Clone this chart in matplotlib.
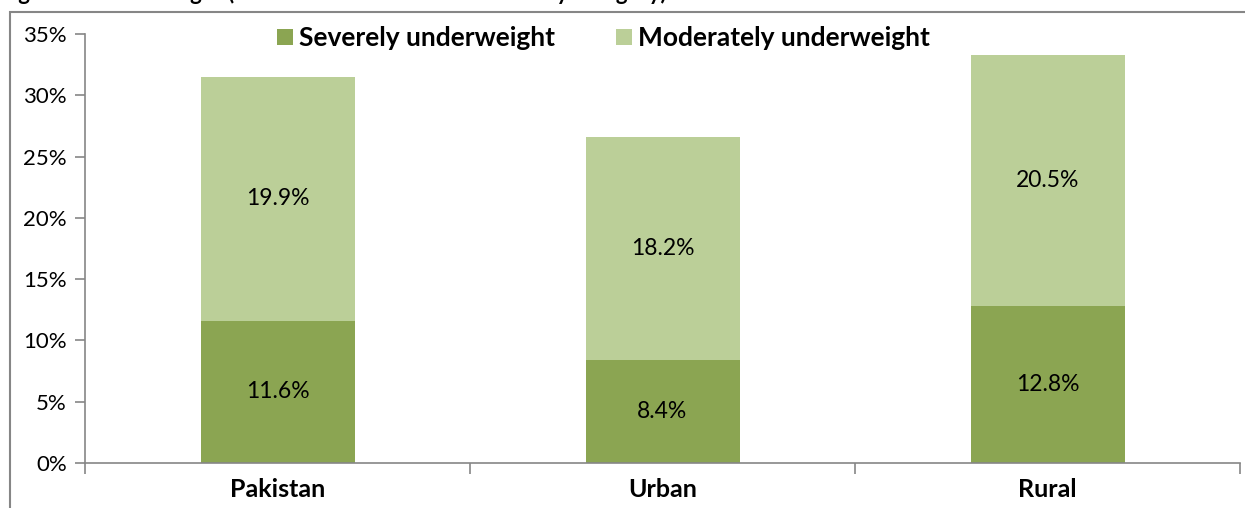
import matplotlib
matplotlib.use("Agg")
from matplotlib import pyplot as plt
from matplotlib.patches import Rectangle
from matplotlib.ticker import FuncFormatter

categories = ["Pakistan", "Urban", "Rural"]
severe = [11.6, 8.4, 12.8]
moderate = [19.9, 18.2, 20.5]
series_names = ["Severely underweight", "Moderately underweight"]
title = "Figure 5: Underweight (Children under five in Pakistan by category)"

dark = "#8BA552"
light = "#BBCF98"
axis_gray = "#868686"

plt.rcParams["font.family"] = ["Lato", "DejaVu Sans"]

fig = plt.figure(figsize=(12.45, 5.08), dpi=100)
ax = fig.add_axes([85 / 1245, 45 / 508, 1155 / 1245, 429 / 508])

x = list(range(len(categories)))
ax.bar(x, severe, width=0.4, color=dark, label=series_names[0])
ax.bar(x, moderate, width=0.4, bottom=severe, color=light, label=series_names[1])

for i in x:
    ax.text(i, severe[i] / 2, f"{severe[i]:.1f}%", ha="center", va="center", fontsize=16.5)
    ax.text(i, severe[i] + moderate[i] / 2, f"{moderate[i]:.1f}%", ha="center", va="center", fontsize=16.5)

ax.set_xlim(-0.5, 2.5)
ax.set_ylim(0, 35)
ax.set_yticks(range(0, 36, 5))
ax.yaxis.set_major_formatter(FuncFormatter(lambda v, p: f"{v:.0f}%"))
ax.tick_params(axis="y", labelsize=16, color=axis_gray, length=7, width=1.2, pad=6)

# category boundaries get the tick marks, labels sit in between
ax.set_xticks([-0.5, 0.5, 1.5, 2.5])
ax.set_xticklabels([])
ax.set_xticks(x, minor=True)
ax.set_xticklabels(categories, minor=True, fontsize=18, fontweight="bold")
ax.tick_params(axis="x", which="major", color=axis_gray, length=8, width=1.2, direction="out")
ax.tick_params(axis="x", which="minor", length=0, pad=11)

for side in ["top", "right"]:
    ax.spines[side].set_visible(False)
for side in ["left", "bottom"]:
    ax.spines[side].set_color(axis_gray)
    ax.spines[side].set_linewidth(1.2)

ax.legend(loc="center", bbox_to_anchor=(0.449, 0.99), ncol=2, frameon=False,
          handlelength=0.6, handleheight=0.6, handletextpad=0.25, columnspacing=2.3,
          prop={"size": 19, "weight": "bold"})

# outer chart border, partly off the picture
fig.patches.append(Rectangle((10 / 1245, -0.2), 1.2, 1.2 - 12 / 508, transform=fig.transFigure,
                             fill=False, edgecolor=axis_gray, linewidth=1.5))
fig.text(0.0, 1.0, title, fontsize=16, fontweight="bold", va="baseline", ha="left")

fig.savefig("out.png", dpi=100)
